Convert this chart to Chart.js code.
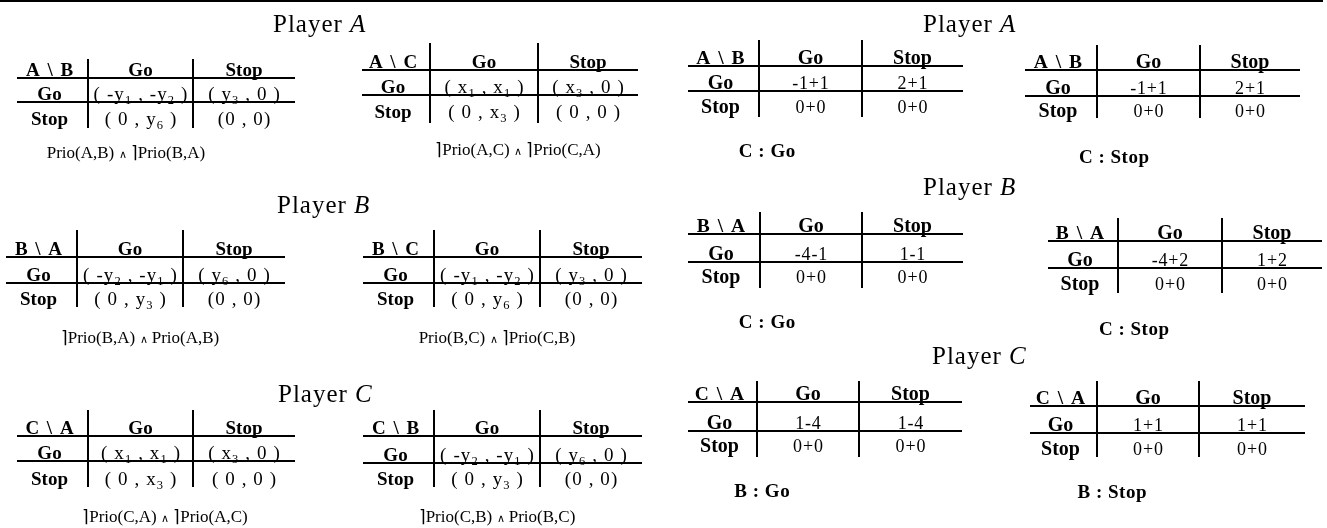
<!DOCTYPE html>
<html><head><meta charset="utf-8">
<script src="https://cdn.jsdelivr.net/npm/chart.js@4.4.1/dist/chart.umd.min.js"></script>
<style>html,body{margin:0;padding:0;background:#fff;overflow:hidden}canvas{display:block}</style>
</head><body>
<canvas id="c" width="1327" height="528"></canvas>
<script>
// ---------- data ----------
const players = ['A', 'B', 'C'];
const strategies = ['Go', 'Stop'];
const leftCorners = ['A \\ B', 'A \\ C', 'B \\ A', 'B \\ C', 'C \\ A', 'C \\ B'];
const leftCells = [
  [['( -y_1 , -y_2 )', '( y_3 , 0 )'], ['( 0 , y_6 )', '(0 , 0)']],
  [['( x_1 , x_1 )', '( x_3 , 0 )'], ['( 0 , x_3 )', '( 0 , 0 )']],
  [['( -y_2 , -y_1 )', '( y_6 , 0 )'], ['( 0 , y_3 )', '(0 , 0)']],
  [['( -y_1 , -y_2 )', '( y_3 , 0 )'], ['( 0 , y_6 )', '(0 , 0)']],
  [['( x_1 , x_1 )', '( x_3 , 0 )'], ['( 0 , x_3 )', '( 0 , 0 )']],
  [['( -y_2 , -y_1 )', '( y_6 , 0 )'], ['( 0 , y_3 )', '(0 , 0)']]
];
const leftCaptions = [
  'Prio(A,B) ∧ ⌉Prio(B,A)',
  '⌉Prio(A,C) ∧ ⌉Prio(C,A)',
  '⌉Prio(B,A) ∧ Prio(A,B)',
  'Prio(B,C) ∧ ⌉Prio(C,B)',
  '⌉Prio(C,A) ∧ ⌉Prio(A,C)',
  '⌉Prio(C,B) ∧ Prio(B,C)'
];
const rightCorners = ['A \\ B', 'A \\ B', 'B \\ A', 'B \\ A', 'C \\ A', 'C \\ A'];
const rightCells = [
  [['-1+1', '2+1'], ['0+0', '0+0']],
  [['-1+1', '2+1'], ['0+0', '0+0']],
  [['-4-1', '1-1'], ['0+0', '0+0']],
  [['-4+2', '1+2'], ['0+0', '0+0']],
  [['1-4', '1-4'], ['0+0', '0+0']],
  [['1+1', '1+1'], ['0+0', '0+0']]
];
const rightCaptions = ['C : Go', 'C : Stop', 'C : Go', 'C : Stop', 'B : Go', 'B : Stop'];

// ---------- layout (positions only) ----------
const titlePos = [[273, 32], [277, 213], [278, 402], [923, 32], [923, 195], [932, 364]];
// [x0, v1, v2, x1, top, hLine, rLine, bottom, row2Base, capX, capY]
const leftPos = [
  [17, 88, 193, 295, 59, 78, 102, 128, 125, 126, 158],
  [362, 430, 538, 638, 43, 70, 95, 123, 118, 518, 155],
  [6, 77, 183, 285, 230, 257, 283, 307, 305, 140, 343],
  [363, 434, 540, 642, 230, 257, 283, 307, 305, 497, 343],
  [17, 88, 193, 295, 410, 436, 461, 487, 485, 165, 522],
  [363, 434, 540, 642, 410, 436, 463, 487, 485, 497, 522]
];
const rightPos = [
  [688, 759, 862, 963, 40, 66, 91, 117, 113, 767, 157],
  [1025, 1097, 1200, 1300, 45, 70, 96, 118, 117, 1114, 163],
  [688, 760, 862, 963, 212, 234, 262, 288, 283, 767, 328],
  [1048, 1118, 1222, 1322, 218, 241, 268, 293, 290, 1134, 335],
  [688, 757, 859, 962, 381, 402, 431, 457, 452, 762, 497],
  [1030, 1097, 1199, 1305, 381, 406, 433, 457, 455, 1112, 498]
];
const FAM = '"Liberation Serif","Times New Roman",serif';

// style sets: size, bold, letter spacing
const ST = {
  title: { size: 25, bold: false, ls: 1 },
  leftLabel: { size: 19, bold: true, ls: 0 },
  leftCorner: { size: 19, bold: true, ls: 1.5 },
  leftCell: { size: 19, bold: false, ls: 1.1 },
  leftCap: { size: 17, bold: false, ls: 0 },
  rightLabel: { size: 20, bold: true, ls: 0 },
  rightCorner: { size: 19.5, bold: true, ls: 1.5 },
  rightCell: { size: 18, bold: false, ls: 0.8 },
  rightCap: { size: 19, bold: true, ls: 0.5 }
};

function segs(str) {
  const out = [];
  for (let i = 0; i < str.length; i++) {
    const ch = str[i];
    if (ch === '_') { out.push({ t: str[i + 1], k: 'sub' }); i++; }
    else if (ch === '∧') out.push({ t: ch, k: 'small' });
    else if (ch === '|') { out.push({ t: str[i + 1], k: 'ital' }); i++; }
    else out.push({ t: ch, k: 'n' });
  }
  return out;
}
function fontFor(k, st) {
  const w = st.bold ? 'bold ' : '';
  if (k === 'sub') return w + (st.size * 0.66).toFixed(1) + 'px ' + FAM;
  if (k === 'small') return w + (st.size * 0.62).toFixed(1) + 'px ' + FAM;
  if (k === 'ital') return 'italic ' + w + st.size + 'px ' + FAM;
  return w + st.size + 'px ' + FAM;
}
function drawRich(ctx, str, x, y, st, align) {
  const s = segs(str);
  let total = 0;
  s.forEach(p => { ctx.font = fontFor(p.k, st); p.w = ctx.measureText(p.t).width + st.ls; total += p.w; });
  total -= st.ls;
  let cx = align === 'left' ? x : x - total / 2;
  ctx.textAlign = 'left';
  ctx.textBaseline = 'alphabetic';
  s.forEach(p => {
    ctx.font = fontFor(p.k, st);
    const dy = p.k === 'sub' ? 3.5 : 0;
    ctx.fillText(p.t, cx, y + dy);
    cx += p.w;
  });
}

const framePlugin = {
  id: 'gameTables',
  afterDraw(chart) {
    const ctx = chart.ctx;
    const xs = chart.scales.x, ys = chart.scales.y;
    const X = v => xs.getPixelForValue(v), Y = v => ys.getPixelForValue(v);
    ctx.save();
    ctx.fillStyle = '#000';
    ctx.fillRect(X(0), Y(0), X(1323) - X(0), 2);
    titlePos.forEach((p, i) => {
      drawRich(ctx, 'Player |' + players[i % 3], X(p[0]), Y(p[1]), ST.title, 'left');
    });
    function table(L, corner, cells, caption, side) {
      const [x0, v1, v2, x1, top, hl, rl, bot, r2, cpx, cpy] = L;
      const lab = ST[side + 'Label'], cor = ST[side + 'Corner'], cel = ST[side + 'Cell'], cap = ST[side + 'Cap'];
      ctx.fillRect(X(x0), Y(hl) - 1, X(x1) - X(x0), 2);
      ctx.fillRect(X(x0), Y(rl) - 1, X(x1) - X(x0), 2);
      ctx.fillRect(X(v1) - 1, Y(top), 2, Y(bot) - Y(top));
      ctx.fillRect(X(v2) - 1, Y(top), 2, Y(bot) - Y(top));
      const c0 = X((x0 + v1) / 2) - 3, c1 = X((v1 + v2) / 2), c2 = X((v2 + x1) / 2);
      const yH = Y(hl) - 2, y1 = Y(rl) - 2, y2 = Y(r2);
      drawRich(ctx, corner, c0, yH, cor);
      drawRich(ctx, strategies[0], c1, yH, lab);
      drawRich(ctx, strategies[1], c2, yH, lab);
      drawRich(ctx, strategies[0], c0, y1, lab);
      drawRich(ctx, strategies[1], c0, y2, lab);
      drawRich(ctx, cells[0][0], c1, y1, cel);
      drawRich(ctx, cells[0][1], c2, y1, cel);
      drawRich(ctx, cells[1][0], c1, y2, cel);
      drawRich(ctx, cells[1][1], c2, y2, cel);
      drawRich(ctx, caption, X(cpx), Y(cpy), cap);
    }
    leftPos.forEach((L, i) => table(L, leftCorners[i], leftCells[i], leftCaptions[i], 'left'));
    rightPos.forEach((L, i) => table(L, rightCorners[i], rightCells[i], rightCaptions[i], 'right'));
    ctx.restore();
  }
};

new Chart(document.getElementById('c'), {
  type: 'scatter',
  data: { datasets: [{ data: [] }] },
  options: {
    responsive: false,
    animation: false,
    events: [],
    layout: { padding: 0 },
    plugins: { legend: { display: false }, tooltip: { enabled: false } },
    scales: {
      x: { type: 'linear', min: 0, max: 1327, display: false },
      y: { type: 'linear', min: 0, max: 528, reverse: true, display: false }
    }
  },
  plugins: [framePlugin]
});
</script>
</body></html>
